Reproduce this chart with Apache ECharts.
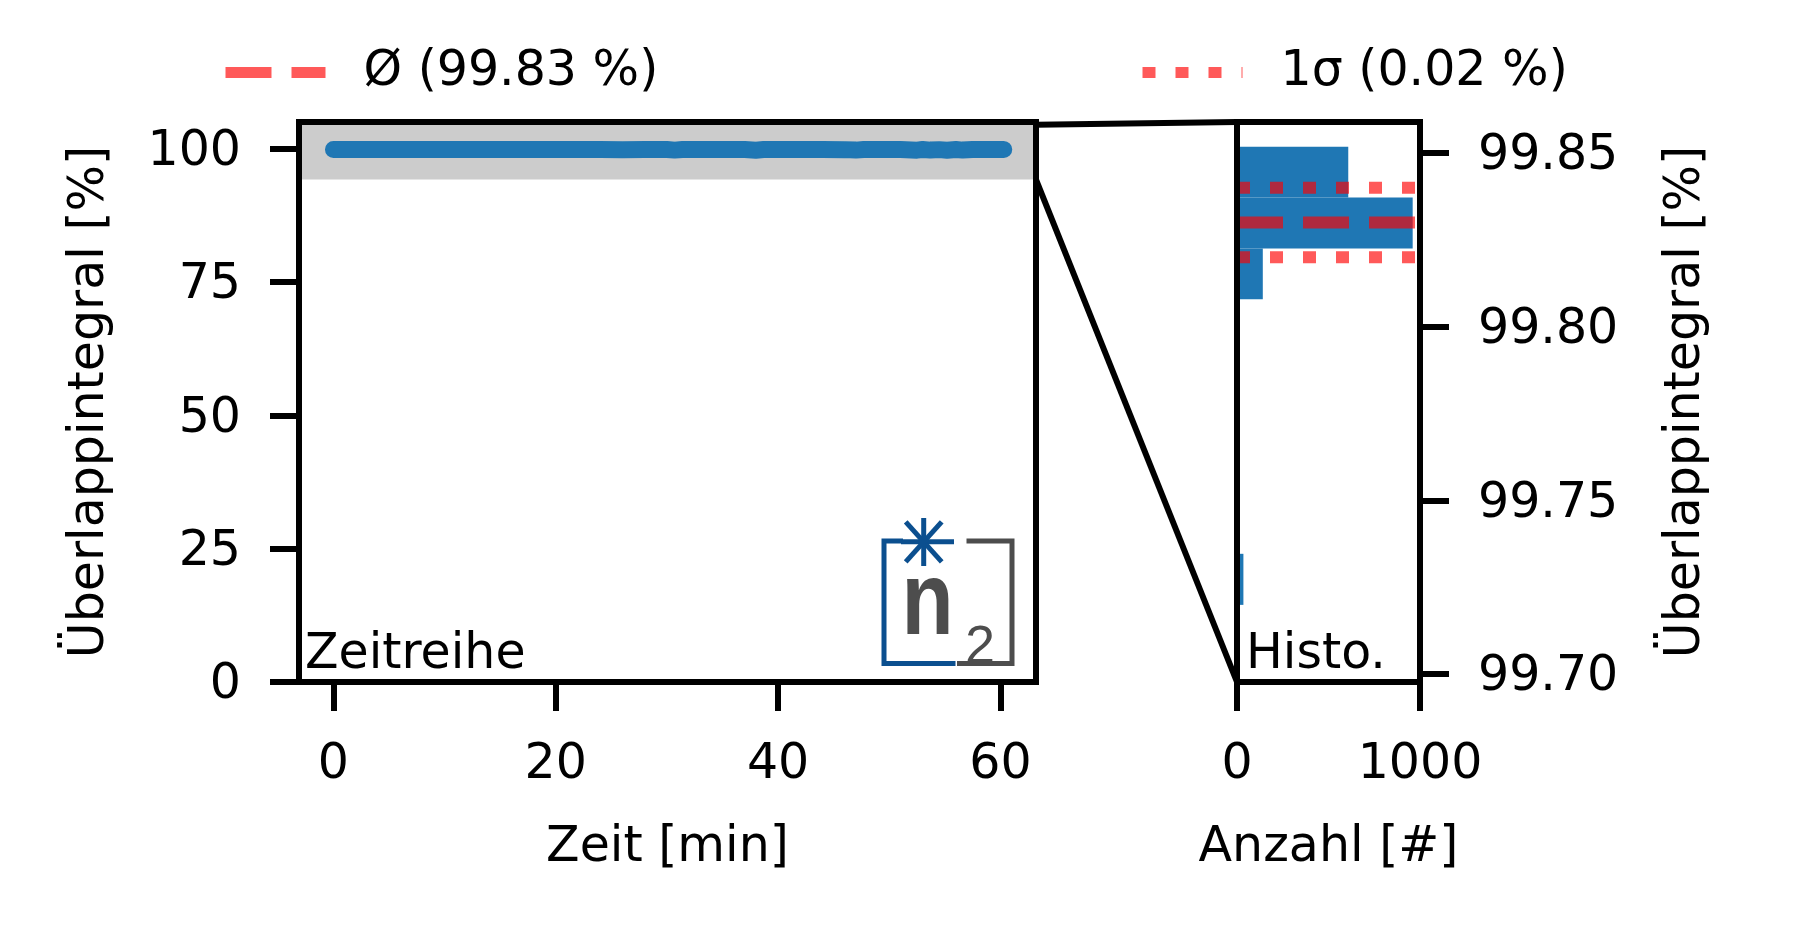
<!DOCTYPE html>
<html>
<head>
<meta charset="utf-8">
<title>Überlappintegral</title>
<script src="https://cdn.jsdelivr.net/npm/echarts@6/dist/echarts.min.js"></script>
<style>
  html, body { margin: 0; padding: 0; background: #fff; }
  #chart { width: 1800px; height: 936px; }
</style>
</head>
<body>
<div id="chart"></div>
<script>
// Zeitreihe: Zeit [min] / Überlappintegral [%]
const timeMin = [0, 2, 4, 6, 8, 10, 12, 14, 16, 18, 20, 22, 24, 26, 28, 30, 30.7, 31.4, 33, 35,
  37, 38, 38.7, 40, 42, 44, 46, 47, 47.7, 49, 51, 52.5, 53, 53.7, 54.5, 55.2, 56, 56.6, 57.5, 59, 60.3];
const overlapPct = [99.84, 99.83, 99.84, 99.83, 99.83, 99.84, 99.83, 99.83, 99.84, 99.83, 99.83,
  99.84, 99.83, 99.82, 99.84, 99.83, 99.73, 99.83, 99.84, 99.83, 99.83, 99.72, 99.83, 99.84, 99.83,
  99.83, 99.82, 99.73, 99.83, 99.84, 99.83, 99.72, 99.83, 99.73, 99.82, 99.72, 99.83, 99.73, 99.83,
  99.84, 99.83];

// Histogramm (horizontal)
const binEdges = [99.7199, 99.7346, 99.7492, 99.7639, 99.7785, 99.7932, 99.8079, 99.8225, 99.8372, 99.8518];
const binCounts = [35, 0, 0, 0, 0, 0, 141, 960, 608];
const meanPct = 99.83;
const sigmaPct = [99.84, 99.82];
const meanLabel = 'Ø (99.83 %)';
const sigmaLabel = '1σ (0.02 %)';

// Achsen
const timeTicks = [0, 20, 40, 60];
const overlapTicks = [0, 25, 50, 75, 100];
const countTicks = [0, 1000];
const histTicks = [99.70, 99.75, 99.80, 99.85];
const timeRange = [-3.1, 63.2];
const overlapRange = [0, 105];
const countRange = [0, 1000];
const histRange = [99.6977, 99.8589];
const zoomBand = [94.2, 104.5];

const FONT = 'DejaVu Sans';
const FS = 49;
const BLUE = '#1f77b4';
const RED = 'rgba(255,0,0,0.65)';
const txt = { fontSize: FS, fontFamily: FONT, color: '#000' };
const spine = { show: true, onZero: false, lineStyle: { color: '#000', width: 6, cap: 'square' } };
const tick = (vals) => ({ show: true, customValues: vals, length: 29, lineStyle: { color: '#000', width: 6 } });
const tickLabel = (vals, extra) => Object.assign({ customValues: vals }, txt, extra);

// reine Rahmenlinie (oben/rechts bzw. links beim Histogramm)
function frame(gridIndex, position, range) {
  return {
    gridIndex, position, type: 'value', min: range[0], max: range[1], z: 10,
    axisLine: spine, axisTick: { show: false }, axisLabel: { show: false }, splitLine: { show: false }
  };
}

function legendFor(name, left) {
  return {
    data: [name], left, top: 43, itemWidth: 100, itemHeight: 12, selectedMode: false,
    lineStyle: { width: 11, type: 'inherit', color: 'inherit', cap: 'butt' },
    itemStyle: { color: 'rgba(0,0,0,0)', borderWidth: 0, opacity: 0 },
    textStyle: Object.assign({ padding: [0, 0, 6, 33] }, txt)
  };
}

const chart = echarts.init(document.getElementById('chart'));

const option = {
  animation: false,
  backgroundColor: '#fff',
  grid: [
    { left: 299, top: 122, width: 737, height: 560, show: true, borderColor: '#000', borderWidth: 6 },
    { left: 1237, top: 122, width: 183, height: 560, show: true, borderColor: '#000', borderWidth: 6 }
  ],
  legend: [legendFor(meanLabel, 215), legendFor(sigmaLabel, 1132)],
  xAxis: [
    { gridIndex: 0, type: 'value', position: 'bottom', min: timeRange[0], max: timeRange[1], z: 10,
      axisLine: spine, axisTick: tick(timeTicks),
      axisLabel: tickLabel(timeTicks, { margin: 59 }),
      splitLine: { show: false },
      name: 'Zeit [min]', nameLocation: 'middle', nameGap: 142, nameTextStyle: txt },
    frame(0, 'top', timeRange),
    { gridIndex: 1, type: 'value', position: 'bottom', min: countRange[0], max: countRange[1], z: 10,
      axisLine: spine, axisTick: tick(countTicks),
      axisLabel: tickLabel(countTicks, { margin: 59, formatter: v => String(v) }),
      splitLine: { show: false },
      name: 'Anzahl [#]', nameLocation: 'middle', nameGap: 142, nameTextStyle: txt }
  ],
  yAxis: [
    { gridIndex: 0, type: 'value', position: 'left', min: overlapRange[0], max: overlapRange[1], z: 10,
      axisLine: spine, axisTick: tick(overlapTicks),
      axisLabel: tickLabel(overlapTicks, { margin: 58, verticalAlign: 'top', lineHeight: 7 }),
      splitLine: { show: false },
      name: 'Überlappintegral [%]', nameLocation: 'middle', nameRotate: 90, nameGap: 184, nameTextStyle: txt },
    frame(0, 'right', overlapRange),
    { gridIndex: 1, type: 'value', position: 'right', min: histRange[0], max: histRange[1], z: 10,
      axisLine: spine, axisTick: tick(histTicks),
      axisLabel: tickLabel(histTicks, { margin: 58, verticalAlign: 'top', lineHeight: 7, formatter: v => v.toFixed(2) }),
      splitLine: { show: false },
      name: 'Überlappintegral [%]', nameLocation: 'middle', nameRotate: 90, nameGap: 242, nameTextStyle: txt },
    frame(1, 'left', histRange)
  ],
  series: [
    {
      type: 'line', xAxisIndex: 0, yAxisIndex: 0,
      data: timeMin.map((t, i) => [t, overlapPct[i]]),
      symbol: 'none', z: 3,
      lineStyle: { color: BLUE, width: 17, cap: 'round', join: 'round' },
      markArea: {
        silent: true,
        itemStyle: { color: '#cccccc' },
        data: [[{ yAxis: zoomBand[0] }, { yAxis: zoomBand[1] }]]
      }
    },
    {
      type: 'custom', xAxisIndex: 2, yAxisIndex: 2, z: 3,
      data: binCounts.map((n, i) => [n, binEdges[i], binEdges[i + 1]]),
      encode: { x: 0, y: [1, 2] },
      renderItem: (params, api) => {
        const n = api.value(0);
        if (!n) return { type: 'group', children: [] };
        const p0 = api.coord([0, api.value(2)]);
        const p1 = api.coord([n, api.value(1)]);
        return {
          type: 'rect',
          shape: { x: p0[0], y: p0[1], width: p1[0] - p0[0], height: p1[1] - p0[1] },
          style: { fill: BLUE }
        };
      }
    },
    {
      name: meanLabel, type: 'line', xAxisIndex: 2, yAxisIndex: 2, z: 5,
      data: [[countRange[0], meanPct], [countRange[1], meanPct]],
      symbol: 'none', itemStyle: { color: RED },
      lineStyle: { color: RED, width: 12, type: [46, 20], cap: 'butt' }
    },
    ...sigmaPct.map(v => ({
      name: sigmaLabel, type: 'line', xAxisIndex: 2, yAxisIndex: 2, z: 5,
      data: [[countRange[0], v], [countRange[1], v]],
      symbol: 'none', itemStyle: { color: RED },
      lineStyle: { color: RED, width: 12, type: [13, 20], cap: 'butt' }
    }))
  ],
  graphic: [
    { type: 'text', id: 'lblZeit', x: 305, y: 655, z: 20,
      style: { text: 'Zeitreihe', fontSize: FS, fontFamily: FONT, fill: '#000', align: 'left', verticalAlign: 'middle' } },
    { type: 'text', id: 'lblHisto', x: 1246, y: 655, z: 20,
      style: { text: 'Histo.', fontSize: FS, fontFamily: FONT, fill: '#000', align: 'left', verticalAlign: 'middle' } },
    // n2-Logo
    { type: 'polyline', id: 'logoL', z: 20,
      shape: { points: [[903, 541], [884, 541], [884, 663.5], [955.5, 663.5]] },
      style: { stroke: '#0b4f8f', lineWidth: 5, fill: null } },
    { type: 'polyline', id: 'logoR', z: 20,
      shape: { points: [[966.5, 541], [1012, 541], [1012, 663.5], [957, 663.5]] },
      style: { stroke: '#4d4d4d', lineWidth: 5, fill: null } },
    { type: 'line', id: 'astV', z: 20, shape: { x1: 923.7, y1: 518, x2: 923.7, y2: 566 }, style: { stroke: '#0b4f8f', lineWidth: 5 } },
    { type: 'line', id: 'astH', z: 20, shape: { x1: 901, y1: 541.8, x2: 954, y2: 541.8 }, style: { stroke: '#0b4f8f', lineWidth: 5 } },
    { type: 'line', id: 'astD1', z: 20, shape: { x1: 905.7, y1: 521.8, x2: 941.7, y2: 561.8 }, style: { stroke: '#0b4f8f', lineWidth: 5 } },
    { type: 'line', id: 'astD2', z: 20, shape: { x1: 905.7, y1: 561.8, x2: 941.7, y2: 521.8 }, style: { stroke: '#0b4f8f', lineWidth: 5 } },
    { type: 'text', id: 'logoN', x: 901.5, y: 605, scaleX: 0.82, z: 20,
      style: { text: 'n', fontSize: 104, fontWeight: 'bold', fontFamily: 'Liberation Sans', fill: '#4d4d4d', align: 'left', verticalAlign: 'middle' } },
    { type: 'text', id: 'logo2', x: 965, y: 648, z: 20,
      style: { text: '2', fontSize: 54, fontFamily: 'Liberation Sans', fill: '#4d4d4d', align: 'left', verticalAlign: 'middle' } }
  ]
};

chart.setOption(option);

// Verbindungslinien Zoom-Rechteck -> Histogramm
const a1 = chart.convertToPixel({ xAxisIndex: 0, yAxisIndex: 0 }, [timeRange[1], zoomBand[1]]);
const a2 = chart.convertToPixel({ xAxisIndex: 0, yAxisIndex: 0 }, [timeRange[1], zoomBand[0]]);
const b1 = chart.convertToPixel({ xAxisIndex: 2, yAxisIndex: 2 }, [countRange[0], histRange[1]]);
const b2 = chart.convertToPixel({ xAxisIndex: 2, yAxisIndex: 2 }, [countRange[0], histRange[0]]);
chart.setOption({
  graphic: [
    { type: 'line', id: 'conn1', z: 30, shape: { x1: a1[0], y1: a1[1], x2: b1[0], y2: b1[1] }, style: { stroke: '#000', lineWidth: 6 } },
    { type: 'line', id: 'conn2', z: 30, shape: { x1: a2[0], y1: a2[1], x2: b2[0], y2: b2[1] }, style: { stroke: '#000', lineWidth: 6 } }
  ]
});
</script>
</body>
</html>
